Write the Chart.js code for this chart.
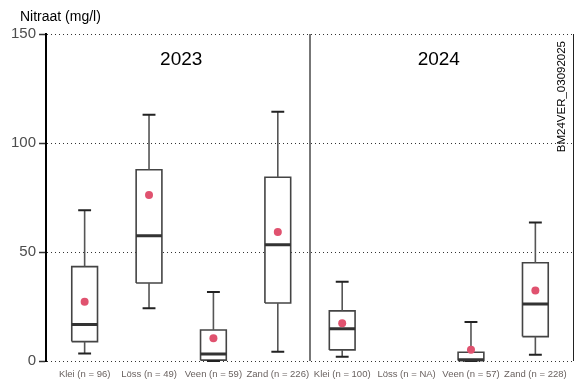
<!DOCTYPE html>
<html><head><meta charset="utf-8">
<script src="https://cdn.jsdelivr.net/npm/chart.js@4/dist/chart.umd.min.js"></script>
<style>html,body{margin:0;padding:0;background:#fff}canvas{display:block}</style>
</head><body>
<canvas id="c" width="584" height="389"></canvas>
<script>
// ---- data ----
const categories = ['Klei (n = 96)', 'Löss (n = 49)', 'Veen (n = 59)', 'Zand (n = 226)',
                    'Klei (n = 100)', 'Löss (n = NA)', 'Veen (n = 57)', 'Zand (n = 228)'];
const years = ['2023', '2024'];
const whiskerLow  = [3.4, 24.2, 0.0, 4.3, 2.0, null, 0.0, 2.9];
const quartile1   = [8.9, 35.8, 0.4, 26.6, 5.1, null, 0.2, 11.2];
const medians     = [16.8, 57.4, 3.2, 53.3, 14.8, null, 0.6, 26.2];
const quartile3   = [43.3, 87.7, 14.2, 84.3, 23.0, null, 4.0, 45.1];
const whiskerHigh = [69.2, 113.0, 31.7, 114.3, 36.4, null, 17.9, 63.5];
const means       = [27.2, 76.1, 10.4, 59.2, 17.3, null, 5.2, 32.3];
const yTicks = [0, 50, 100, 150];
const yTitle = 'Nitraat (mg/l)';
const stamp = 'BM24VER_03092025';

const FONT = "'Liberation Sans', Arial, sans-serif";
const BOX_HALF = 0.2, CAP_HALF = 0.1;

const idx = categories.map((_, i) => i).filter(i => medians[i] !== null);

const whiskerData = [], capData = [], medianData = [], meanData = [];
idx.forEach(i => {
  whiskerData.push({x: i, y: whiskerLow[i]}, {x: i, y: quartile1[i]}, {x: i, y: null},
                   {x: i, y: quartile3[i]}, {x: i, y: whiskerHigh[i]}, {x: i, y: null});
  capData.push({x: i - CAP_HALF, y: whiskerLow[i]}, {x: i + CAP_HALF, y: whiskerLow[i]}, {x: i, y: null},
               {x: i - CAP_HALF, y: whiskerHigh[i]}, {x: i + CAP_HALF, y: whiskerHigh[i]}, {x: i, y: null});
  medianData.push({x: i - BOX_HALF, y: medians[i]}, {x: i + BOX_HALF, y: medians[i]}, {x: i, y: null});
  meanData.push({x: i, y: means[i]});
});

const boxDatasets = idx.map(i => ({
  type: 'line',
  data: [{x: i - BOX_HALF, y: quartile1[i]}, {x: i + BOX_HALF, y: quartile1[i]},
         {x: i + BOX_HALF, y: quartile3[i]}, {x: i - BOX_HALF, y: quartile3[i]},
         {x: i - BOX_HALF, y: quartile1[i]}],
  borderColor: '#444', borderWidth: 1.6, backgroundColor: '#ffffff',
  fill: 'shape', pointRadius: 0, tension: 0, order: 4, clip: false
}));

const lineBase = {type: 'line', pointRadius: 0, tension: 0, spanGaps: false, fill: false, clip: false};

const datasets = [
  {type: 'scatter', data: meanData, pointRadius: 4, pointBackgroundColor: '#E0526F',
   pointBorderWidth: 0, showLine: false, order: 0, clip: false},
  {...lineBase, data: medianData, borderColor: '#333', borderWidth: 3, order: 1},
  {...lineBase, data: capData, borderColor: '#222', borderWidth: 2, order: 2},
  {...lineBase, data: whiskerData, borderColor: '#555', borderWidth: 1.6, order: 3},
  ...boxDatasets,
  {...lineBase, data: [{x: 3.5, y: 0}, {x: 3.5, y: 150}], borderColor: '#777', borderWidth: 2, order: 5}
];

const decor = {
  id: 'decor',
  afterDraw(chart) {
    const {ctx, chartArea: a, scales: {x, y}} = chart;
    ctx.save();
    // right frame line
    ctx.strokeStyle = '#222'; ctx.lineWidth = 1;
    ctx.beginPath(); ctx.moveTo(a.right - 0.5, a.top); ctx.lineTo(a.right - 0.5, a.bottom); ctx.stroke();
    // axis title
    ctx.fillStyle = '#000';
    ctx.font = '14px ' + FONT;
    ctx.textAlign = 'left'; ctx.textBaseline = 'alphabetic';
    ctx.fillText(yTitle, 20, 21);
    // panel labels
    ctx.font = '19px ' + FONT;
    ctx.textAlign = 'center';
    ctx.fillText(years[0], x.getPixelForValue(1.5), 65);
    ctx.fillText(years[1], x.getPixelForValue(5.5), 65);
    // vertical stamp
    ctx.font = '11.5px ' + FONT;
    ctx.translate(561.5, 41);
    ctx.rotate(-Math.PI / 2);
    ctx.textAlign = 'right'; ctx.textBaseline = 'middle';
    ctx.fillText(stamp, 0, 0);
    ctx.restore();
  }
};

new Chart(document.getElementById('c'), {
  type: 'scatter',
  data: {datasets},
  options: {
    responsive: false, animation: false, devicePixelRatio: 1,
    layout: {padding: {top: 34, right: 10, left: 0, bottom: 0}},
    plugins: {legend: {display: false}, tooltip: {enabled: false}},
    scales: {
      x: {
        type: 'linear', min: -0.6, max: 7.6,
        afterBuildTicks: s => { s.ticks = categories.map((_, i) => ({value: i})); },
        afterFit: s => { s.height = 28; },
        ticks: {callback: v => categories[v], font: {size: 9.5, family: FONT}, color: '#6a6260',
                padding: 8, maxRotation: 0, autoSkip: false},
        grid: {display: false, drawTicks: false},
        border: {display: false}
      },
      y: {
        min: 0, max: 150,
        afterBuildTicks: s => { s.ticks = yTicks.map(v => ({value: v})); },
        afterFit: s => { s.width = 46; },
        ticks: {font: {size: 15, family: FONT}, color: '#4d4d4d', padding: 3},
        grid: {color: '#333', lineWidth: 1, tickLength: 7, tickColor: '#333', tickWidth: 1.5,
               tickBorderDash: []},
        border: {display: true, color: '#000', width: 2, dash: [1, 3]}
      }
    }
  },
  plugins: [decor]
});
</script>
</body></html>
